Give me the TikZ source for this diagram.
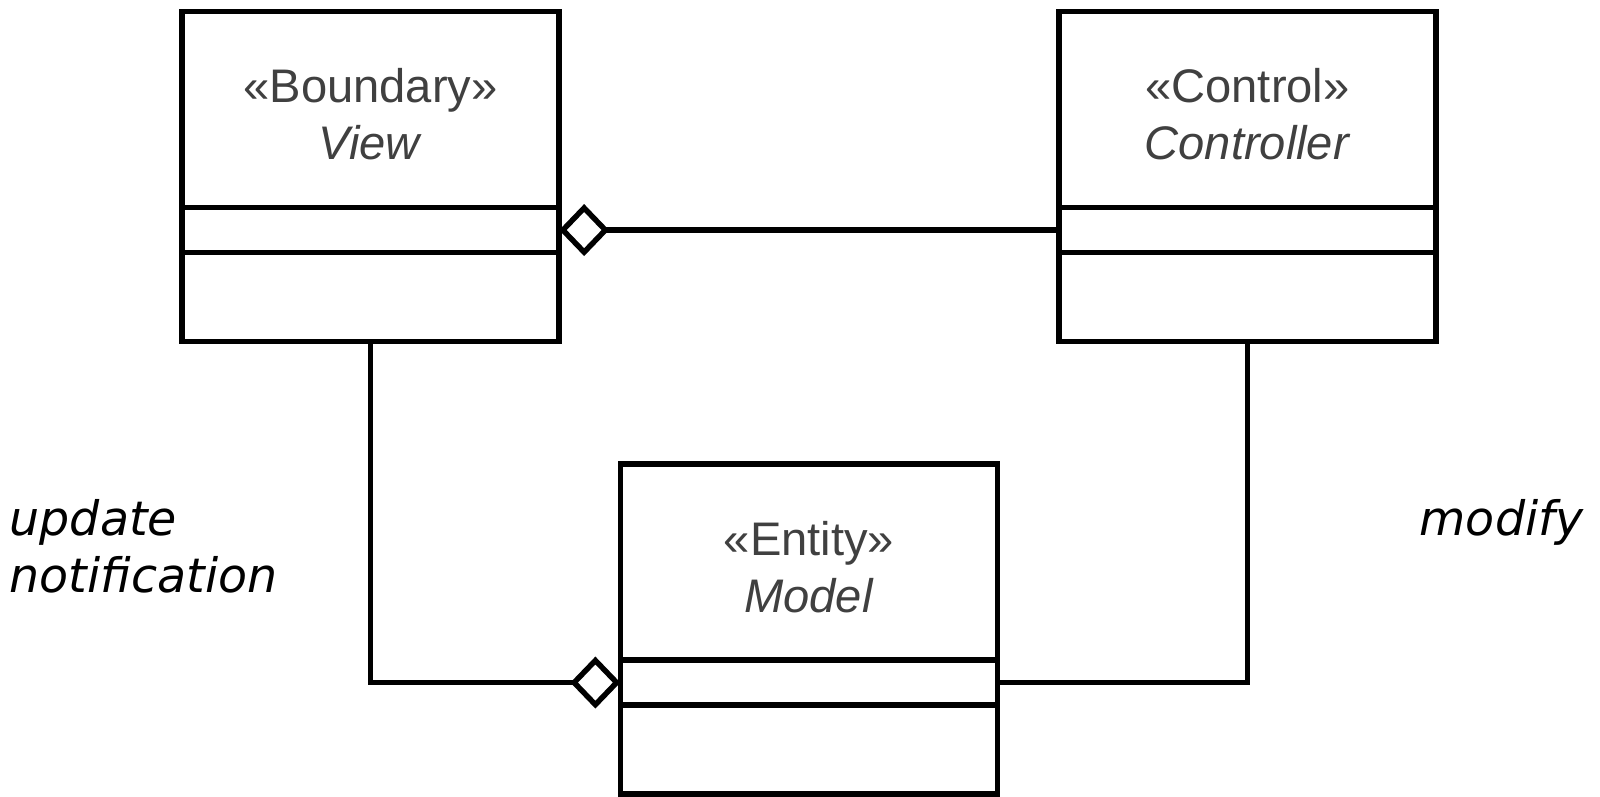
\documentclass[tikz,border=0pt]{standalone}
\usepackage{fontspec}
\setmainfont{Liberation Sans}
\newfontfamily\notefont{DejaVu Sans}
\usetikzlibrary{positioning,arrows.meta}
\definecolor{stereo}{RGB}{64,64,64}

\begin{document}
\begin{tikzpicture}[x=0.01cm,y=0.01cm,line width=1.55pt,
                    every node/.style={outer sep=0pt},
                    classhead/.style={draw,minimum width=3.77cm,minimum height=1.96cm,
                      align=center,text=stereo,text height=1cm,text depth=0pt,
                      font=\fontsize{13.4}{16.2}\selectfont},
                    classattr/.style={draw,minimum width=3.77cm,minimum height=0.45cm},
                    classops/.style={draw,minimum width=3.77cm,minimum height=0.89cm},
                    note/.style={align=left,font=\notefont\itshape\fontsize{13.5}{16.2}\selectfont},
                    aggr/.style={-{Diamond[open,length=0.5cm,width=0.52cm]}}]
  \useasboundingbox (0,0) rectangle (1600,796);

  \node[classhead] (view)       at (370.5,686.5) {«Boundary»\\\textit{View}};
  \node[classattr] (view-attr)  [below=0pt of view]      {};
  \node[classops]  (view-ops)   [below=0pt of view-attr] {};

  \node[classhead] (ctrl)       at (1247.5,686.5) {«Control»\\\textit{Controller}};
  \node[classattr] (ctrl-attr)  [below=0pt of ctrl]      {};
  \node[classops]  (ctrl-ops)   [below=0pt of ctrl-attr] {};

  \node[classhead] (model)      at (809,234) {«Entity»\\\textit{Model}};
  \node[classattr] (model-attr) [below=0pt of model]      {};
  \node[classops]  (model-ops)  [below=0pt of model-attr] {};

  \draw[aggr] (ctrl-attr.west) -- (view-attr.east);
  \draw[aggr] (view-ops.south) |- (model-attr.west);
  \draw (ctrl-ops.south) |- (model-attr.east);

  \node[note,anchor=base west] (upd) at (-2,204)   {update\\notification};
  \node[note,anchor=base west] (mod) at (1408,261) {modify};
\end{tikzpicture}
\end{document}
